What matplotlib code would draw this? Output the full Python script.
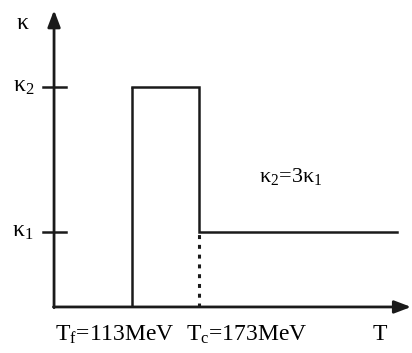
import matplotlib
matplotlib.use("Agg")
import matplotlib.pyplot as plt

plt.rcParams["font.family"] = ["Liberation Serif", "DejaVu Serif"]
plt.rcParams["mathtext.fontset"] = "custom"
plt.rcParams["mathtext.rm"] = "Liberation Serif"
plt.rcParams["mathtext.it"] = "Liberation Serif"
plt.rcParams["mathtext.default"] = "regular"

# --- data: step profile of kappa versus temperature (MeV) ---
T_f = 113.0
T_c = 173.0
T_end = 350.0
kappa_1 = 1.0
kappa_2 = 3.0 * kappa_1

# axis frame (origin, arrow tips) in data units
T0, K0 = 43.2, -0.034
T_tip, K_tip = 363.0, 4.06

LINE = "#1a1a1a"

fig = plt.figure(figsize=(4.12, 3.53), dpi=100)
ax = fig.add_axes([0, 0, 1, 1])
ax.set_xlim(-5.2, 363.8)
ax.set_ylim(-0.669, 4.2)
ax.axis("off")

# axes with arrow heads
head = "-|>,head_length=1.0,head_width=0.38"
ax.annotate("", xy=(T_tip, K0), xytext=(T0 - 0.5, K0),
            arrowprops=dict(arrowstyle=head, color=LINE, lw=2.0, shrinkA=0, shrinkB=0))
ax.annotate("", xy=(T0, K_tip), xytext=(T0, K0 - 0.01),
            arrowprops=dict(arrowstyle=head, color=LINE, lw=2.0, shrinkA=0, shrinkB=0))

# step curve
ax.plot([T_f, T_f], [K0, kappa_2], color=LINE, lw=1.8, solid_capstyle="butt")
ax.plot([T_f, T_c, T_c, T_end], [kappa_2, kappa_2, kappa_1, kappa_1],
        color=LINE, lw=1.8, solid_joinstyle="miter")
# dotted drop-line at T_c
ax.plot([T_c, T_c], [K0, kappa_1], color=LINE, lw=2.2, linestyle=(0, (1.3, 1.9)))

# y ticks
for k in (kappa_1, kappa_2):
    ax.plot([T0 - 9.5, T0 + 10.5], [k, k], color=LINE, lw=1.8)

# labels
fs = 17
ax.text(T0 - 28, 3.88, r"$\kappa$", fontsize=fs, ha="center", va="center")
ax.text(T0 - 27, kappa_2, r"$\kappa_2$", fontsize=fs, ha="center", va="center")
ax.text(T0 - 28, kappa_1, r"$\kappa_1$", fontsize=fs, ha="center", va="center")
ax.text(T_f - 15, -0.42, r"$T_f$=113MeV", fontsize=fs, ha="center", va="center")
ax.text(T_c + 43, -0.42, r"$T_c$=173MeV", fontsize=fs, ha="center", va="center")
ax.text(335, -0.42, "T", fontsize=fs, ha="center", va="center")
ax.text(255, 1.76, r"$\kappa_2$=3$\kappa_1$", fontsize=fs - 1, ha="center", va="center")

fig.savefig("out.png", dpi=100, facecolor="white")
